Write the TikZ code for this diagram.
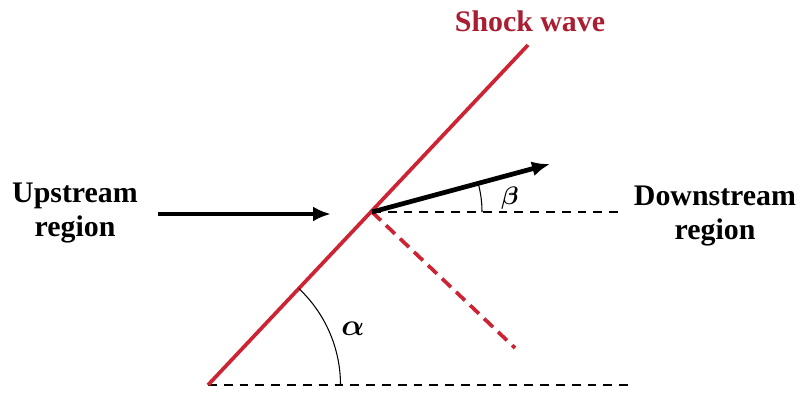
\documentclass[tikz,border=0pt]{standalone}
\usepackage{amsmath,amssymb,bm}
\usepackage{fontspec}
\setmainfont{Liberation Serif}
\usetikzlibrary{arrows.meta,positioning,calc}
\definecolor{shockred}{RGB}{205,35,50}
\definecolor{labelred}{RGB}{170,30,50}
\tikzset{shock/.style={draw=shockred,line width=2.1pt},flow/.style={-{Latex[length=3.6mm,width=3mm]},line width=2.7pt},ref/.style={dashed,line width=1.2pt,dash pattern=on 5pt off 4pt},anglearc/.style={line width=.6pt},lbl/.style={font=\fontsize{17}{19}\selectfont\bfseries,align=center}}

\begin{document}
\begin{tikzpicture}
\useasboundingbox (0,0) rectangle (16,7.84);
\coordinate (base) at (4.16,0.14);\coordinate (top) at (10.56,6.94);
\coordinate (hit) at (7.44,3.60);\coordinate (baseend) at (12.6,0.14);
\coordinate (hitend) at (12.5,3.60);\coordinate (normend) at (10.3,0.88);
\coordinate (upstart) at (3.16,3.56);\coordinate (upend) at (6.62,3.56);
\coordinate (downend) at (11.0,4.56);
\node[lbl,text=labelred] (wave) at (10.6,7.42){Shock wave};
\node[lbl] (up) at (1.5,3.58){Upstream\\region};
\node[lbl] (down) at (14.3,3.52){Downstream\\region};
\draw[ref](base)--(baseend);\draw[ref](hit)--(hitend);
\draw[shock](base)--(top);
\draw[shock,dashed,dash pattern=on 7pt off 4pt](hit)--(normend);
\draw[flow](upstart)--(upend);\draw[flow](hit)--(downend);
\draw[anglearc]($(base)+(2.65,0)$) arc(0:46.7:2.65);
\draw[anglearc]($(hit)+(2.2,0)$) arc(0:15:2.2);
\node[font=\fontsize{17}{17}\selectfont] (alpha) at (7.06,1.26){$\bm{\alpha}$};
\node[font=\fontsize{15}{15}\selectfont] (beta) at (10.2,3.88){$\bm{\beta}$};
\end{tikzpicture}
\end{document}
